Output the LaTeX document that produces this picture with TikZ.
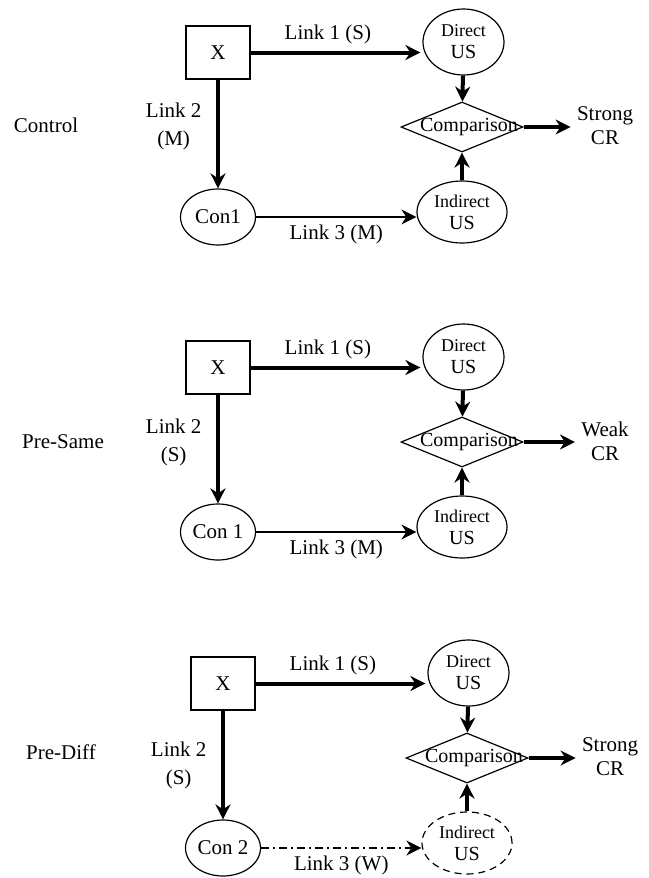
\documentclass[tikz,border=0pt]{standalone}
\usepackage{fontspec}
\setmainfont{Liberation Serif}
\usetikzlibrary{shapes.geometric,arrows.meta}

\begin{document}
\begin{tikzpicture}[x=0.5pt, y=-0.5pt, font=\fontsize{10.5}{14}\selectfont,
    box/.style={rectangle, draw, line width=0.6pt, inner sep=0pt,
      minimum width=32pt, minimum height=26.5pt},
    con/.style={ellipse, draw, line width=0.6pt, inner sep=0pt,
      minimum width=37.5pt, minimum height=28pt},
    dus/.style={ellipse, draw, line width=0.6pt, inner sep=0pt, align=center,
      minimum width=40.5pt, minimum height=33pt, font=\fontsize{10}{11}\selectfont},
    ius/.style={dus, minimum width=45pt, minimum height=31pt},
    cmp/.style={diamond, draw, line width=0.6pt, inner sep=0pt,
      minimum width=61pt, minimum height=25pt, font=\fontsize{10}{12}\selectfont},
    resp/.style={align=center, inner sep=3pt, font=\fontsize{10.5}{12}\selectfont},
    link/.style={->, >={Stealth[length=7.5pt, width=7.5pt]}, line width=2pt},
    weaklink/.style={link, line width=0.85pt}]
  \useasboundingbox (0,0) rectangle (648,878);

  % Control
  \begin{scope}
    \node (grp) at (46,125) {Control}; \node[box] (x) at (218,52.5) {X};
    \node[dus] (dus) at (463.5,42) {{\fontsize{9}{11}\selectfont Direct}\\US};
    \node[ius] (ius) at (462,212) {{\fontsize{9}{11}\selectfont Indirect}\\US};
    \node[cmp] (cmp) at (462,127) {\makebox[0pt]{\hspace*{7pt}Comparison}};
    \node[resp] (cr) at (605,126) {Strong\\CR}; \node[con] (con) at (218,217) {Con1};
    \begin{scope}[link, auto]
      \draw[shorten >=1pt] (x) to node[pos=0.45] {Link 1 (S)} (x -| dus.west);
      \draw (x) to node[align=center, left=4pt, pos=0.43] {Link 2\\(M)} (con);
      \draw (dus) -- (cmp); \draw (ius) -- (cmp); \draw (cmp) -- (cmp -| cr.west);
      \draw[weaklink] (con) to node[swap] {Link 3 (M)} (con -| ius.west);
    \end{scope}
  \end{scope}

  % Pre-Same
  \begin{scope}[shift={(0,315)}]
    \node (grp) at (63,127) {Pre-Same}; \node[box] (x) at (218,52.5) {X};
    \node[dus] (dus) at (463.5,42) {{\fontsize{9}{11}\selectfont Direct}\\US};
    \node[ius] (ius) at (462,212) {{\fontsize{9}{11}\selectfont Indirect}\\US};
    \node[cmp] (cmp) at (462,127) {\makebox[0pt]{\hspace*{7pt}Comparison}};
    \node[resp] (cr) at (605,126) {Weak\\CR}; \node[con] (con) at (218,217) {Con 1};
    \begin{scope}[link, auto]
      \draw[shorten >=1pt] (x) to node[pos=0.45] {Link 1 (S)} (x -| dus.west);
      \draw (x) to node[align=center, left=4pt, pos=0.44] {Link 2\\(S)} (con);
      \draw (dus) -- (cmp); \draw (ius) -- (cmp); \draw (cmp) -- (cmp -| cr.west);
      \draw[weaklink] (con) to node[swap] {Link 3 (M)} (con -| ius.west);
    \end{scope}
  \end{scope}

  % Pre-Diff
  \begin{scope}[shift={(5,631)}]
    \node (grp) at (56,121) {Pre-Diff}; \node[box] (x) at (218,52.5) {X};
    \node[dus] (dus) at (463.5,42) {{\fontsize{9}{11}\selectfont Direct}\\US};
    \node[ius, dashed, dash pattern=on 3.5pt off 2.5pt] (ius) at (462,212)
      {{\fontsize{9}{11}\selectfont Indirect}\\US};
    \node[cmp] (cmp) at (462,127) {\makebox[0pt]{\hspace*{7pt}Comparison}};
    \node[resp] (cr) at (605,126) {Strong\\CR}; \node[con] (con) at (218,217) {Con 2};
    \begin{scope}[link, auto]
      \draw[shorten >=1pt] (x) to node[pos=0.45] {Link 1 (S)} (x -| dus.west);
      \draw (x) to node[align=center, left=4pt, pos=0.5] {Link 2\\(S)} (con);
      \draw (dus) -- (cmp); \draw (ius) -- (cmp); \draw (cmp) -- (cmp -| cr.west);
      \draw[weaklink, dash pattern=on 4pt off 2pt on 1pt off 2pt] (con) to
        node[swap] {Link 3 (W)} (con -| ius.west);
    \end{scope}
  \end{scope}
\end{tikzpicture}
\end{document}
